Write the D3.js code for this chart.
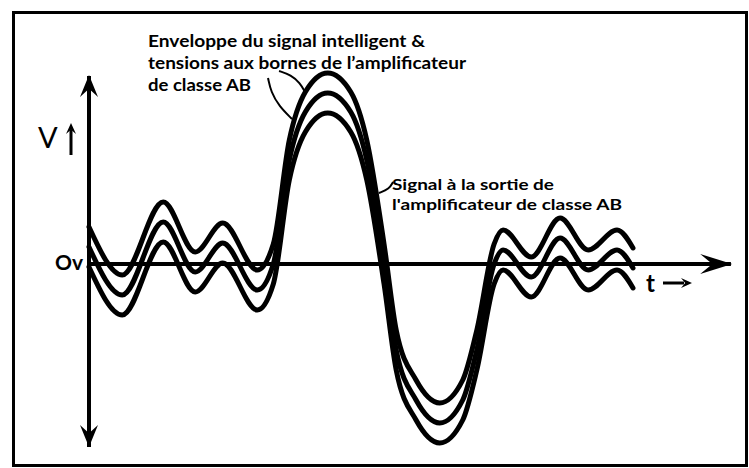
<!DOCTYPE html>
<html>
<head>
<meta charset="utf-8">
<script src="https://cdn.jsdelivr.net/npm/d3@7"></script>
<style>
  html, body { margin: 0; padding: 0; background: #fff; }
  text { font-family: Lato, "Open Sans", sans-serif; fill: #000; }
</style>
</head>
<body>
<div id="chart"></div>
<script>
// middle curve (t in arbitrary time units, V in volts-ish units)
const timePts = [0, 5.2, 11.6, 16.6, 20.9, 26.3, 28.8, 31.3, 33.8, 37.3, 40.9, 43.4, 46.1,
                 48.0, 51.1, 54.8, 58.4, 60.6, 63.3, 64.7, 69.1, 73.6, 78.0, 82.5, 85.0];
const midVolts = [0.85, -1.55, 2.1, -0.4, 1.05, -1.3, 0, 5.2, 7.6, 8.55, 7.6, 5.2, 0,
                  -4.3, -6.8, -7.95, -6.8, -4.3, 0, 0.7, -0.65, 1.3, -0.3, 0.7, -0.2];
// the three traces are the same shape shifted up / down
const curveOffsets = [1, 0, -1];

const enveloppeLines = ["Enveloppe du signal intelligent &",
                        "tensions aux bornes de l’amplificateur",
                        "de classe AB"];
const sortieLines = ["Signal à la sortie de", "l'amplificateur de classe AB"];

// leader lines (t, V)
const leaderA = [[27.97, 9.3], [28.44, 8.6], [29.69, 7.9], [31.72, 7.25]];
const leaderB = [[29.69, 9.65], [31.56, 9.45], [32.97, 9.05], [33.75, 8.6]];
const leaderC = [[47.5, 4.1], [46.9, 3.75], [45.3, 3.55]];

const W = 749, H = 468;
const svg = d3.select("#chart").append("svg")
  .attr("width", W).attr("height", H)
  .attr("viewBox", `0 0 ${W} ${H}`);

svg.append("rect").attr("width", W).attr("height", H).attr("fill", "#fff");

// frame
svg.append("rect")
  .attr("x", 13.5).attr("y", 12.5)
  .attr("width", 733).attr("height", 453)
  .attr("fill", "none").attr("stroke", "#000").attr("stroke-width", 3);

const x = d3.scaleLinear().domain([0, 100]).range([89, 729]);
const y = d3.scaleLinear().domain([-10, 10]).range([464, 64]);

// arrowhead, barbed
function arrowHead(px, py, angle, len, half) {
  const p = [[0, 0], [-len, -half], [-len * 0.62, 0], [-len, half]];
  const c = Math.cos(angle), s = Math.sin(angle);
  const pts = p.map(([a, b]) => [px + a * c - b * s, py + a * s + b * c]);
  svg.append("path")
    .attr("d", "M" + pts.map(q => q.join(",")).join("L") + "Z")
    .attr("fill", "#000");
}

// axes
const x0 = x(0), y0 = y(0);
svg.append("line")
  .attr("x1", x0).attr("x2", x0)
  .attr("y1", y(9.4)).attr("y2", y(-9.15))
  .attr("stroke", "#000").attr("stroke-width", 4);
arrowHead(x0, y(9.45), -Math.PI / 2, 22, 9);
arrowHead(x0, y(-9.15), Math.PI / 2, 22, 9);

svg.append("line")
  .attr("x1", x0).attr("x2", x(100.3))
  .attr("y1", y0).attr("y2", y0)
  .attr("stroke", "#000").attr("stroke-width", 4);
arrowHead(x(100.5), y0, 0, 32, 10);

// curves
const line = d3.line()
  .x(d => x(d[0]))
  .y(d => y(d[1]))
  .curve(d3.curveMonotoneX);

svg.append("g").selectAll("path")
  .data(curveOffsets)
  .enter().append("path")
  .attr("d", off => line(timePts.map((t, i) => [t, midVolts[i] + off])))
  .attr("fill", "none")
  .attr("stroke", "#000")
  .attr("stroke-width", 5)
  .attr("stroke-linejoin", "round")
  .attr("stroke-linecap", "round");

// leaders
const leader = d3.line().x(d => x(d[0])).y(d => y(d[1])).curve(d3.curveBasis);
[leaderA, leaderB, leaderC].forEach(pts => {
  svg.append("path")
    .attr("d", leader(pts))
    .attr("fill", "none").attr("stroke", "#000").attr("stroke-width", 2);
});

// labels
svg.append("text").attr("x", 38).attr("y", 148)
  .style("font-size", "29px").text("V");
svg.append("line")
  .attr("x1", 71).attr("x2", 71).attr("y1", 155).attr("y2", 130)
  .attr("stroke", "#000").attr("stroke-width", 3);
arrowHead(71, 123, -Math.PI / 2, 11, 5);

svg.append("text").attr("x", 83).attr("y", 270)
  .attr("text-anchor", "end")
  .style("font-size", "21px").style("font-weight", 700).text("Ov");

svg.append("text").attr("x", 646).attr("y", 292)
  .style("font-size", "24px").style("font-weight", 700).text("t");
svg.append("line")
  .attr("x1", 663).attr("x2", 684).attr("y1", 283).attr("y2", 283)
  .attr("stroke", "#000").attr("stroke-width", 3);
arrowHead(692, 283, 0, 11, 5);

const envWidths = [277, 318, 103];
svg.append("g").selectAll("text")
  .data(enveloppeLines)
  .enter().append("text")
  .attr("x", 148)
  .attr("y", (d, i) => 47 + i * 22)
  .attr("textLength", (d, i) => envWidths[i])
  .attr("lengthAdjust", "spacingAndGlyphs")
  .style("font-size", "17px").style("font-weight", 700)
  .text(d => d);

const sortieWidths = [162, 230];
svg.append("g").selectAll("text")
  .data(sortieLines)
  .enter().append("text")
  .attr("x", 392)
  .attr("y", (d, i) => 190 + i * 20)
  .attr("textLength", (d, i) => sortieWidths[i])
  .attr("lengthAdjust", "spacingAndGlyphs")
  .style("font-size", "16px").style("font-weight", 700)
  .text(d => d);
</script>
</body>
</html>
